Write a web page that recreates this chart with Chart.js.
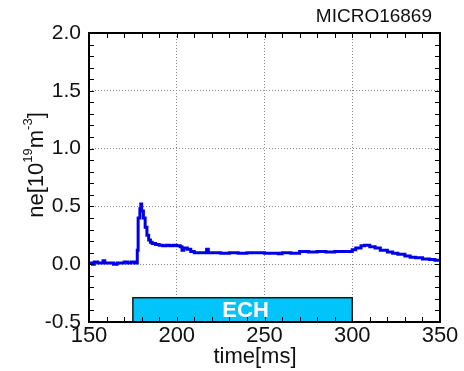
<!DOCTYPE html>
<html>
<head>
<meta charset="utf-8">
<script src="https://cdn.jsdelivr.net/npm/chart.js@4.4.1/dist/chart.umd.min.js"></script>
<style>
    html, body { margin: 0; padding: 0; background: #fff; }
    #wrap { width: 464px; height: 371px; position: relative; }
</style>
</head>
<body>
<div id="wrap"><canvas id="neChart"></canvas></div>
<script>
// shot number and axis labels
const shotLabel = 'MICRO16869';
const xTitle = 'time[ms]';

// electron density trace
const timeMs = [150, 152, 153, 155, 157, 158, 159, 162, 164, 166, 168, 170, 172, 174, 176, 177,
    177.5, 178, 179, 179.5, 180, 181, 182, 183, 184, 185, 186, 188, 190, 192, 194, 196, 198, 200,
    202, 203, 204, 206, 208, 210, 212, 214, 217, 218, 220, 225, 230, 235, 240, 245, 250, 255, 258,
    260, 265, 270, 275, 280, 285, 290, 295, 298, 300, 302, 305, 307, 310, 313, 316, 320, 323, 326,
    330, 333, 336, 340, 344, 347, 350];
const neValues = [0.01, 0.00, 0.02, 0.01, 0.01, 0.03, 0.01, 0.01, 0.00, 0.01, 0.01, 0.02, 0.01, 0.02, 0.01, 0.01,
    0.12, 0.40, 0.48, 0.52, 0.46, 0.40, 0.32, 0.25, 0.21, 0.19, 0.18, 0.17, 0.165, 0.16, 0.165, 0.16, 0.165, 0.16,
    0.15, 0.12, 0.14, 0.13, 0.11, 0.10, 0.10, 0.10, 0.13, 0.10, 0.10, 0.095, 0.10, 0.095, 0.10, 0.10, 0.095, 0.095, 0.09,
    0.10, 0.095, 0.11, 0.105, 0.11, 0.105, 0.11, 0.11, 0.11, 0.125, 0.14, 0.16, 0.165, 0.15, 0.14, 0.12, 0.105, 0.095, 0.085,
    0.07, 0.06, 0.055, 0.045, 0.04, 0.035, 0.035];

// ECH heating window [start, end] in ms and the bar's top in ne units
const echWindow = [175, 300];
const echBarTop = [-0.29];

const xRange = [150, 350];
const yRange = [-0.5, 2.0];

const FONT = '"Liberation Sans", Arial, sans-serif';

// inward tick marks on all four sides, frame, ECH bar and titles
const decorPlugin = {
    id: 'decor',
    afterDatasetsDraw(chart) {
        const { ctx, chartArea: a, scales: { x, y } } = chart;
        ctx.save();

        // ECH bar
        const bx0 = x.getPixelForValue(echWindow[0]);
        const bx1 = x.getPixelForValue(echWindow[1]);
        const by0 = y.getPixelForValue(echBarTop[0]);
        const by1 = y.getPixelForValue(yRange[0]);
        ctx.fillStyle = '#00c4fa';
        ctx.fillRect(bx0, by0, bx1 - bx0, by1 - by0);
        ctx.strokeStyle = '#1a1a1a';
        ctx.lineWidth = 1.5;
        ctx.strokeRect(bx0, by0, bx1 - bx0, by1 - by0);
        ctx.fillStyle = '#fff';
        ctx.font = 'bold 22px ' + FONT;
        ctx.textAlign = 'center';
        ctx.textBaseline = 'middle';
        ctx.fillText('ECH', (bx0 + bx1) / 2 + 3, (by0 + by1) / 2 + 1);

        // minor ticks
        ctx.strokeStyle = '#000';
        ctx.lineWidth = 1;
        ctx.beginPath();
        for (let t = xRange[0]; t <= xRange[1]; t += 10) {
            const px = Math.round(x.getPixelForValue(t)) + 0.5;
            ctx.moveTo(px, a.bottom); ctx.lineTo(px, a.bottom - 5);
            ctx.moveTo(px, a.top); ctx.lineTo(px, a.top + 5);
        }
        for (let i = 0; i <= 25; i++) {
            const v = yRange[0] + i * 0.1;
            const py = Math.round(y.getPixelForValue(v)) + 0.5;
            ctx.moveTo(a.left, py); ctx.lineTo(a.left + 5, py);
            ctx.moveTo(a.right, py); ctx.lineTo(a.right - 5, py);
        }
        ctx.stroke();

        // frame
        ctx.lineWidth = 2;
        ctx.strokeRect(a.left, a.top, a.right - a.left, a.bottom - a.top);

        // shot label
        ctx.fillStyle = '#111';
        ctx.font = '19px ' + FONT;
        ctx.textAlign = 'right';
        ctx.textBaseline = 'middle';
        ctx.fillText(shotLabel, 432, 17);

        // x title
        ctx.font = '22px ' + FONT;
        ctx.textAlign = 'center';
        ctx.fillText(xTitle, 255, 357);

        // y title with superscripts, rotated
        ctx.translate(37, 165);
        ctx.rotate(-Math.PI / 2);
        const parts = [['ne[10', 22, 0], ['19', 13, -9], ['m', 22, 0], ['-3', 13, -9], [']', 22, 0]];
        let total = 0;
        parts.forEach(p => { ctx.font = p[1] + 'px ' + FONT; total += ctx.measureText(p[0]).width; });
        let cx = -total / 2;
        ctx.textAlign = 'left';
        ctx.textBaseline = 'middle';
        parts.forEach(p => {
            ctx.font = p[1] + 'px ' + FONT;
            ctx.fillText(p[0], cx, p[2]);
            cx += ctx.measureText(p[0]).width;
        });
        ctx.restore();
    }
};

new Chart(document.getElementById('neChart'), {
    type: 'line',
    data: {
        datasets: [{
            data: timeMs.map((t, i) => ({ x: t, y: neValues[i] })),
            borderColor: '#0000e8',
            borderWidth: 3,
            pointRadius: 0,
            tension: 0,
            stepped: true,
            fill: false
        }]
    },
    options: {
        responsive: true,
        maintainAspectRatio: false,
        animation: false,
        layout: { padding: { top: 33, right: 24, left: 0, bottom: 0 } },
        plugins: {
            legend: { display: false },
            tooltip: { enabled: false }
        },
        scales: {
            x: {
                type: 'linear',
                min: xRange[0],
                max: xRange[1],
                afterFit: s => { s.height = 49; },
                ticks: {
                    stepSize: 50,
                    color: '#111',
                    padding: 1,
                    maxRotation: 0,
                    font: { family: FONT, size: 22 }
                },
                grid: {
                    drawTicks: false,
                    color: '#8a8a8a',
                    lineWidth: 1
                },
                border: { display: false, dash: [1, 2] }
            },
            y: {
                min: yRange[0],
                max: yRange[1],
                afterFit: s => { s.width = 89; },
                ticks: {
                    stepSize: 0.5,
                    color: '#111',
                    padding: 8,
                    font: { family: FONT, size: 21 },
                    callback: v => v.toFixed(1)
                },
                grid: {
                    drawTicks: false,
                    color: '#8a8a8a',
                    lineWidth: 1
                },
                border: { display: false, dash: [1, 2] }
            }
        }
    },
    plugins: [decorPlugin]
});
</script>
</body>
</html>
